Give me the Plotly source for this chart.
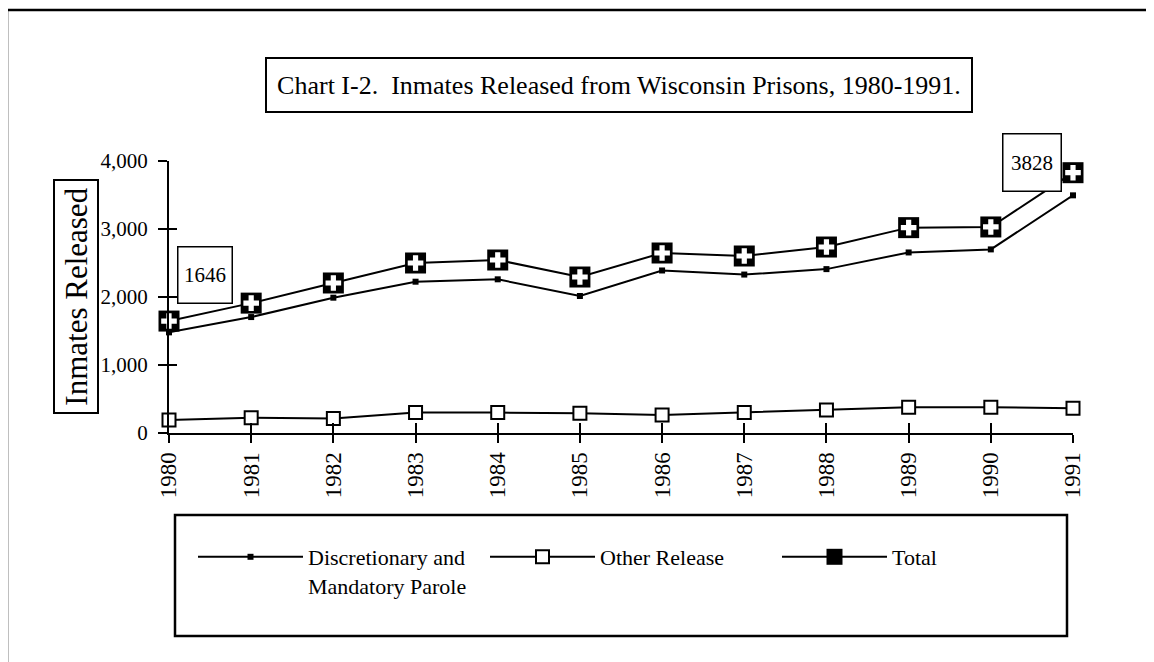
import plotly.graph_objects as go

# ---- data ----
years = [1980, 1981, 1982, 1983, 1984, 1985, 1986, 1987, 1988, 1989, 1990, 1991]
year_labels = [str(y) for y in years]
discretionary = [1480, 1705, 1990, 2225, 2260, 2015, 2390, 2330, 2410, 2655, 2700, 3495]
other_release = [190, 225, 215, 300, 300, 290, 265, 300, 340, 380, 380, 365]
total = [1646, 1910, 2206, 2500, 2544, 2294, 2647, 2603, 2735, 3020, 3030, 3828]
y_ticks = [0, 1000, 2000, 3000, 4000]

series_names = ["Discretionary and<br>Mandatory Parole", "Other Release", "Total"]
title_text = "Chart I-2.\u00a0 Inmates Released from Wisconsin Prisons, 1980-1991."
y_title = "Inmates Released"

FONT = "Liberation Serif, Times New Roman, serif"
W, H = 1154, 662
OFF = 8  # page body margin offset of the figure inside the window
# target screen positions of the plot area
SX0, SX1, SY0, SY1 = 169, 1073, 161, 433
L, T = SX0 - OFF, SY0 - OFF
PW, PH = SX1 - SX0, SY1 - SY0
R, B = W - L - PW, H - T - PH


def px(xs):
    return (xs - SX0) / PW


def py(ys):
    return (SY1 - ys) / PH


fig = go.Figure()

fig.add_trace(go.Scatter(
    x=years, y=discretionary, name=series_names[0], mode="lines+markers",
    line=dict(color="black", width=2),
    marker=dict(symbol="square", size=6, color="black"),
    cliponaxis=False,
))
fig.add_trace(go.Scatter(
    x=years, y=other_release, name=series_names[1], mode="lines+markers",
    line=dict(color="black", width=2),
    marker=dict(symbol="square", size=13, color="white", line=dict(color="black", width=2)),
    cliponaxis=False,
))
fig.add_trace(go.Scatter(
    x=years, y=total, name=series_names[2], mode="lines+markers",
    line=dict(color="black", width=2),
    marker=dict(symbol="square", size=21, color="black"),
    cliponaxis=False, legendgroup="total",
))
# white plus drawn inside the Total markers
fig.add_trace(go.Scatter(
    x=years, y=total, name=series_names[2], mode="markers",
    marker=dict(symbol="cross", size=13, color="white"),
    cliponaxis=False, showlegend=False, legendgroup="total", hoverinfo="skip",
))
# invisible trace to carry the overlay axes (inner half of crossing ticks)
fig.add_trace(go.Scatter(
    x=years, y=total, xaxis="x2", yaxis="y2", mode="lines",
    line=dict(width=0, color="rgba(0,0,0,0)"), showlegend=False, hoverinfo="skip",
))

fig.update_layout(
    width=W, height=H,
    margin=dict(l=L, r=R, t=T, b=B, autoexpand=False),
    paper_bgcolor="white", plot_bgcolor="white",
    font=dict(family=FONT, color="black", size=21),
    showlegend=True,
    xaxis=dict(
        range=[years[0], years[-1]], tickvals=years, ticktext=year_labels,
        tickangle=-90, tickfont=dict(size=23, family=FONT),
        showline=True, linecolor="black", linewidth=2,
        ticks="outside", ticklen=8, tickwidth=2, tickcolor="black",
        showgrid=False, zeroline=False, automargin=False,
    ),
    yaxis=dict(
        range=[0, 4000], tickvals=y_ticks, tickformat=",d",
        tickfont=dict(size=21, family=FONT),
        showline=True, linecolor="black", linewidth=2,
        ticks="outside", ticklen=9, tickwidth=2, tickcolor="black",
        ticklabelstandoff=6,
        showgrid=False, zeroline=False, automargin=False,
    ),
    xaxis2=dict(
        overlaying="x", range=[years[0], years[-1]], tickvals=years,
        showticklabels=False, ticks="inside", ticklen=10, tickwidth=2, tickcolor="black",
        showline=False, showgrid=False, zeroline=False, automargin=False,
    ),
    yaxis2=dict(
        overlaying="y", range=[0, 4000], tickvals=y_ticks, side="left",
        showticklabels=False, ticks="inside", ticklen=8, tickwidth=2, tickcolor="black",
        showline=False, showgrid=False, zeroline=False, automargin=False,
    ),
    legend=dict(
        orientation="h", x=px(193), y=py(536), xanchor="left", yanchor="top",
        font=dict(size=22, family=FONT), bgcolor="rgba(0,0,0,0)", borderwidth=0,
        entrywidth=172, entrywidthmode="pixels", valign="top", itemwidth=105,
    ),
)

# outer frame (only top and left edges visible), legend frame
fig.add_shape(type="rect", xref="paper", yref="paper",
              x0=px(7), x1=px(W + 40), y0=py(H + 40), y1=py(10),
              line=dict(color="black", width=2.5), layer="below")
fig.add_shape(type="rect", xref="paper", yref="paper",
              x0=px(175), x1=px(1067), y0=py(636), y1=py(515),
              line=dict(color="black", width=2.5), layer="below")

# title box
fig.add_annotation(text=title_text, xref="paper", yref="paper",
                   x=px(619), y=py(85), xanchor="center", yanchor="middle",
                   showarrow=False, width=704, height=52, borderpad=0,
                   bordercolor="black", borderwidth=2, bgcolor="white",
                   font=dict(size=26, family=FONT))
# y-axis title box
fig.add_annotation(text=y_title, xref="paper", yref="paper",
                   x=px(76), y=py(297), xanchor="center", yanchor="middle",
                   showarrow=False, textangle=-90,
                   width=231, height=42, borderpad=0,
                   bordercolor="black", borderwidth=2, bgcolor="white",
                   font=dict(size=31, family=FONT))
# value labels
fig.add_annotation(text=str(total[0]), x=years[0], y=total[0], xref="x", yref="y",
                   xanchor="center", yanchor="middle",
                   showarrow=False, xshift=36, yshift=46,
                   width=53, height=55, borderpad=0,
                   bordercolor="black", borderwidth=1.5, bgcolor="white",
                   font=dict(size=21, family=FONT))
fig.add_annotation(text=str(total[-1]), x=years[-1], y=total[-1], xref="x", yref="y",
                   xanchor="center", yanchor="middle",
                   showarrow=False, xshift=-41, yshift=10,
                   width=57, height=56, borderpad=0,
                   bordercolor="black", borderwidth=1.5, bgcolor="white",
                   font=dict(size=21, family=FONT))

fig.write_html("out.html")
